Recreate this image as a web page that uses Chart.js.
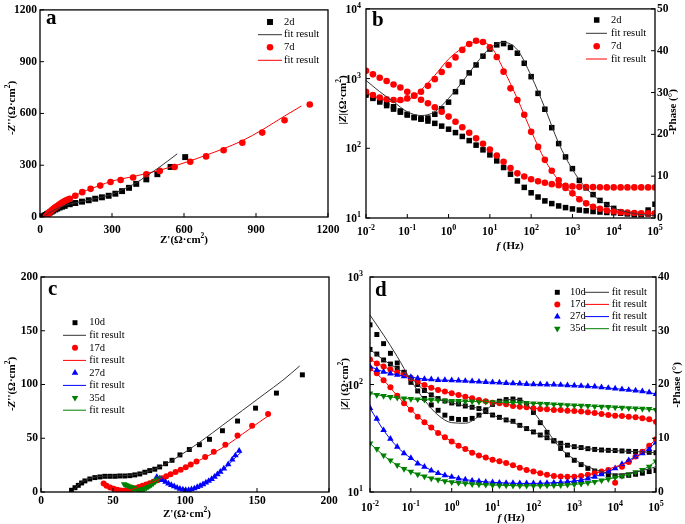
<!DOCTYPE html>
<html>
<head>
<meta charset="utf-8">
<script src="https://cdn.jsdelivr.net/npm/chart.js@4.4.1/dist/chart.umd.min.js"></script>
<style>
html,body{margin:0;padding:0;background:#ffffff;}
#wrap{position:relative;width:685px;height:524px;overflow:hidden;background:#fff;}
#wrap canvas{position:absolute;left:0;top:0;}
</style>
</head>
<body>
<div id="wrap">
<canvas id="pa" width="685" height="524"></canvas>
<canvas id="pb" width="685" height="524"></canvas>
<canvas id="pc" width="685" height="524"></canvas>
<canvas id="pd" width="685" height="524"></canvas>
</div>
<script>
// ---------------- DATA ----------------
// Panel a : Nyquist, 2d and 7d  [Z', -Z'']
const a2d = [[12,0.5],[15,4],[19,8],[24,12],[29,16],[35,21],[41,26],[48,31],[55,37],[64,43.6],[72,49],[82,55],[92,60],[103,64.5],[124,74],[147,81],[175,89],[203,97],[230,106],[258,114],[286,123],[314,135],[342,150],[371,169],[401,192],[443,218],[489,248],[544,290],[605,347]];
const a2dFit = [[15,0],[30,18],[47,31],[64,44],[82,56],[103,66],[124,75],[147,82],[175,90],[203,97],[230,106],[258,115],[286,126],[314,140],[342,157],[371,176],[401,198],[443,237],[489,280],[530,322],[572,366]];
const a7d = [[24,0.5],[26,4],[29,10],[33,16],[36,21],[40,27],[45,33],[50,40],[55,46],[61,53],[66,58],[72,64],[79,71],[86,77.6],[94,85],[102.8,93],[113,99],[124,106],[147,123],[176,144],[211,163],[251,182],[294,203],[336,214],[388,229],[443,248],[499,267],[561,290],[626,320],[692,351],[765,387],[843,430],[926,489],[1019,561],[1124,652]];
const a7dFit = [[24,0],[40,27],[60,52],[86,78],[124,107],[176,144],[211,163],[251,184],[294,205],[336,220],[388,234],[443,252],[499,271],[561,296],[626,325],[692,358],[765,396],[843,442],[926,505],[1019,585],[1089,643]];
const aTicks = [0,300,600,900,1200];

// Bode frequencies (Hz)
const FREQ = [0.01,0.0147,0.0215,0.0316,0.0464,0.0681,0.1,0.147,0.215,0.316,0.464,0.681,1,1.47,2.15,3.16,4.64,6.81,10,14.7,21.5,31.6,46.4,68.1,100,147,215,316,464,681,1000,1470,2150,3160,4640,6810,10000,14700,21500,31600,46400,68100,100000];
const FREQ_FIT = [0.01,0.0215,0.0464,0.1,0.215,0.464,1,2.15,4.64,10,21.5,46.4,100,215,464,1000,2150,4640,10000,21500,46400,100000];
const FREQ_DECADES = [0.01,0.1,1,10,100,1000,10000,100000];

// Panel b : |Z| and -phase, 2d and 7d
const bZ2d = [580,520,462,410,365,330,300,278,262,246,228,208,188,168,148,129,111,95,80.5,66,53,42.5,34,27.5,23,20,17.6,16.1,14.9,14.1,13.5,13.0,12.7,12.4,12.2,12.0,11.9,11.7,11.6,11.5,11.4,11.4,11.5];
const bP2d = [29.9,29.0,28.2,27.4,26.6,25.6,24.8,24.0,23.7,23.9,24.8,26.1,27.7,30.2,32.5,34.7,36.6,38.7,40.4,41.4,41.7,40.8,39.4,37.0,33.8,29.8,26.0,21.6,17.8,14.6,11.8,9.0,7.2,5.6,4.2,3.2,2.3,1.5,1.0,0.8,0.8,1.9,3.3];
const bZ7d = [1294,1150,1030,925,822,745,646,567,498,442,388,335,285,240,200,167,139,116,96,79,64,52,43.7,39.3,36,33.7,32,30.6,29.6,29,28.4,28,27.8,27.7,27.6,27.5,27.5,27.5,27.5,27.5,27.5,27.5,27.5];
const bP7d = [30.2,29.4,28.8,28.4,28.2,28.2,28.6,29.3,30.2,31.6,33.2,34.9,36.6,38.4,40.2,41.6,42.4,42.1,40.8,38.5,35.0,31.0,28.2,24.7,20.6,17.0,13.9,11.3,9.0,7.2,5.9,4.5,3.5,2.7,2.2,1.8,1.55,1.4,1.3,1.2,1.15,1.1,1.1];
const bFitP2d = [32.9,30.2,27.8,25.4,24.5,25.4,28.6,32.5,36.9,40.6,42.0,40.2,34.0,26.3,17.9,11.6,7.1,4.2,2.4,1.4,0.8,0.6];
const bFitP7d = [30.0,28.6,27.8,28.2,30.6,34.1,38.0,40.6,42.1,41.2,35.5,28.5,20.8,13.9,9.0,5.9,3.6,2.3,1.6,1.3,1.1,1.1];
const bZDecades = [10,100,1000,10000];
const bPhaseTicks = [0,10,20,30,40,50];

// Panel c : Nyquist, 10d 17d 27d 35d
const c10d = [[21.2,1.6],[23.6,4.0],[25.9,6.2],[28.2,8.4],[30.5,10.3],[33.9,12.1],[37.4,13.4],[40.9,14.0],[44.3,14.6],[47.8,14.6],[51.3,14.6],[54.7,14.9],[58.2,14.9],[61.7,15.2],[65.1,15.9],[68.6,16.8],[72.1,18.4],[75.5,19.9],[79.0,21.2],[82.4,23.3],[86.5,26.3],[91,29.5],[96.5,34.5],[103,39.5],[110,44],[117,49],[126,57],[136.5,66],[149,78],[163.5,92],[181.5,109]];
const c10dFit = [[22,0],[24,4],[27,8],[31,11],[36,13.5],[42,14.6],[50,15],[58,15.3],[66,16.3],[74,19],[82,23],[90,28.5],[100,37],[112,48],[126,62],[140,76],[155,91],[168,104],[179.7,117.3]];
const c17d = [[43.5,7.8],[45.5,5.8],[48,4.2],[50.5,3],[53,2],[55.5,1.4],[58,1.2],[60.5,1.5],[63,2.4],[65.5,3.5],[68,4.6],[70.5,5.8],[73,7],[75.5,8.2],[78,9.5],[81,11],[84,12.8],[87,14.6],[90,16.4],[93.5,18.6],[97,20.8],[100.5,23],[104,25.5],[108,28.3],[114,32.5],[120,37.5],[128,44],[136.5,52.5],[146.6,61.6],[157.7,72.5]];
const c17dFit = [[44,8],[50,3.2],[56,1.2],[62,2],[70,5.5],[80,10.5],[90,16.5],[100,23],[110,29.5],[120,36.5],[130,44.5],[140,54],[150,63.5],[158,71]];
const c27d = [[80.4,14],[82.5,12.5],[84.5,11],[86.5,9.4],[88.5,7.9],[90.5,6.5],[92.5,5.2],[94.5,4],[96.5,3],[98.5,2.2],[100.5,1.7],[102.5,1.8],[104.5,2.4],[106.5,3.3],[108.5,4.5],[110.5,5.8],[112.5,7.2],[114.5,8.7],[116.5,10.3],[118.5,12.1],[120.5,14.2],[122.5,16.4],[124.5,18.8],[127,21.8],[130,25.8],[132.8,30.2],[135,34],[137.6,38.3]];
const c27dFit = [[80,14.5],[85,10.5],[90,6.3],[95,3],[100,1.6],[105,2.5],[110,5.5],[115,9.2],[120,13.8],[125,19],[130,25],[135,32],[139,37]];
const c35d = [[57.7,7.2],[58.8,6.6],[60,6],[61.2,5.3],[62.4,4.7],[63.6,4.1],[64.8,3.5],[66,3],[67.2,2.6],[68.4,2.3],[69.6,2.2],[70.8,2.6],[72,3.2],[73.2,4],[74.4,4.9],[75.6,5.9],[76.8,7],[78,8.2],[79.2,9.6],[80.4,11],[81.5,12.8]];
const c35dFit = [[57.7,7.4],[61,5.4],[64,3.9],[67,2.7],[69.6,2.2],[72,3.1],[75,5.3],[78,8.1],[81.5,12.6]];
const cTicks = [0,50,100,150,200];

// Panel d : |Z| and -phase, 10d 17d 27d 35d
const dZ10 = [212,192,169,155,141,130,115,100,88,80,74,70.3,67.3,65.9,63.1,61.4,59.7,56,52,49.5,46.8,45.5,41.7,38.9,36.2,33.9,32,30,28.4,27.2,26.4,25.9,25.3,24.9,24.6,24.4,24.3,24.1,23.9,23.8,23.6,23.4,23.2];
const dP10 = [31.1,29.3,27.6,25.8,24.0,22.2,20.4,18.8,17.4,16.2,15.2,14.3,13.7,13.5,13.5,13.7,14.3,15.3,16.3,16.9,17.2,17.3,17.1,16.2,14.8,12.9,11.1,9.5,8.1,6.9,5.9,5.1,4.4,3.9,3.5,3.2,3.0,3.0,3.1,3.3,3.5,3.8,4.0];
const dZ17 = [171,157,147,138,129,123,114,106,99,93.5,89,86,82.8,80,77.1,74.5,71.8,69.8,67.8,66.8,65.5,63.1,62.2,61.4,60.1,59.2,58.8,57.9,57.9,57.1,56.7,56,55.1,54.3,53.2,52,51.3,50.9,50.2,49.5,48.5,47.4,45.1];
const dP17 = [23.0,22.1,20.8,19.5,17.9,16.5,15.3,14.0,13.0,12.0,11.0,10.2,9.4,8.6,8.0,7.3,6.8,6.4,6.0,5.7,5.4,5.0,4.5,4.1,3.8,3.5,3.2,3.0,2.9,2.86,2.86,3.0,3.2,3.5,3.8,4.1,1.7,4.7,5.6,6.6,7.5,8.6,9.8];
const dZ27 = [147,136,131,126,123,119,117,114,112.5,111.7,110,110,109.3,108.6,107.9,107.2,106.2,105.5,104.8,104,103.3,102.6,101.8,101.1,100.4,100.4,99.7,99.7,99,98.3,97.6,96.9,96.2,95.5,94.2,92.9,91.5,90.2,89,87.7,86.5,84.6,81.6];
const dP27 = [15.6,13.6,11.5,9.9,8.4,7.2,6.3,5.3,4.7,4.0,3.5,3.1,2.8,2.5,2.3,2.1,2.0,1.85,1.8,1.73,1.67,1.67,1.6,1.6,1.6,1.6,1.67,1.73,1.8,1.92,2.05,2.2,2.5,2.8,3.3,3.8,4.4,5.2,5.9,6.6,7.2,8.0,9.2];
const dZ35 = [82.8,80,78.2,76.5,75.4,74.3,73.3,72.8,72.3,71.8,71.3,70.8,70.3,70.3,69.7,69.7,69.2,69.2,68.7,68.7,68.2,68.2,67.7,67.3,66.8,66.3,65.9,65.4,64.9,64.4,64,63.5,63.1,62.6,62.2,61.8,61.3,60.8,60.4,60,59.6,59.2,57.9];
const dP35 = [9.05,8.0,6.8,5.9,5.0,4.3,3.78,3.28,2.9,2.53,2.28,2.03,1.84,1.71,1.59,1.47,1.4,1.34,1.28,1.22,1.22,1.16,1.16,1.16,1.16,1.16,1.22,1.22,1.28,1.34,1.4,1.53,1.71,1.9,2.15,2.4,2.7,3.0,3.3,3.7,4.1,4.7,5.7];
const dFitZ10 = [212,169,141,115,88,74,67.3,63.1,59.7,52,46.8,41.7,36.2,32,28.4,26.4,25.3,24.6,24.3,23.9,23.6,23.2];
const dFitP10 = [32.9,29.2,25.2,20.8,17.1,14.3,12.9,12.8,14.1,16.2,17.2,17.2,14.9,11.4,8.1,6.1,4.7,3.8,3.3,3.5,4.0,4.7];
const dFitZ17 = [171,147,129,114,99,89,82.8,77.1,71.8,67.8,65.5,62.2,60.1,58.8,57.9,56.7,55.1,53.2,51.3,50.2,48.5,45.1];
const dFitP17 = [23.0,20.8,17.9,15.3,13.0,11.0,9.4,8.0,6.8,6.0,5.4,4.5,3.8,3.2,2.9,2.86,3.2,3.8,4.7,5.6,7.5,9.8];
const dFitZ27 = [147,131,123,117,112.5,110,109.3,107.9,106.2,104.8,103.3,101.8,100.4,99.7,99,97.6,96.2,94.2,91.5,89,86.5,81.6];
const dFitP27 = [15.6,11.5,8.4,6.3,4.7,3.5,2.8,2.3,2.0,1.8,1.67,1.6,1.6,1.67,1.8,2.05,2.5,3.3,4.4,5.9,7.2,9.2];
const dFitZ35 = [82.8,78.2,75.4,73.3,72.3,71.3,70.3,69.7,69.2,68.7,68.2,67.7,66.8,65.9,64.9,64,63.1,62.2,61.3,60.4,59.6,57.9];
const dFitP35 = [9.05,6.8,5.0,3.78,2.9,2.28,1.84,1.59,1.4,1.28,1.22,1.16,1.16,1.16,1.22,1.4,1.71,2.15,2.7,3.3,4.1,5.7];
const dZDecades = [10,100,1000];
const dPhaseTicks = [0,10,20,30,40];

// ---------------- STYLE / HELPERS ----------------
const SERIF = '"Liberation Serif","Times New Roman",serif';
const TICKF = {family: SERIF, size: 11.5, weight: 'bold'};
Chart.defaults.font.family = SERIF;
Chart.defaults.color = '#000';
const BLK = '#000000', RED = '#ff0000', BLU = '#0000ff', GRN = '#008000', BLKL = '#333333';

const pairs = arr => arr.map(p => ({x: p[0], y: p[1]}));
const spec = (f, v) => f.map((x, i) => ({x: x, y: v[i]}));

function pts(label, data, color, style, r, yID, rot, order) {
  return {label, data, showLine: false, pointStyle: style, pointRadius: r, pointHoverRadius: r,
    pointRotation: rot || 0, backgroundColor: color, borderColor: color, pointBorderWidth: 0,
    yAxisID: yID, order: order};
}
function line(label, data, color, yID, order) {
  return {label, data, showLine: true, pointRadius: 0, pointHoverRadius: 0, borderColor: color,
    backgroundColor: color, borderWidth: 1, cubicInterpolationMode: 'monotone', fill: false,
    yAxisID: yID, order: order};
}
const fixW = w => s => { s.width = w; };
const fixH = h => s => { s.height = h; };
function linAxis(pos, vals, pad, size) {
  const horiz = pos === 'bottom';
  return {type: 'linear', position: pos, min: vals[0], max: vals[vals.length - 1],
    afterBuildTicks: s => { s.ticks = vals.map(v => ({value: v})); },
    ticks: {font: TICKF, color: '#000', padding: pad, maxRotation: 0, minRotation: 0, autoSkip: false,
      callback: v => String(v)},
    grid: {display: false, drawTicks: false}, border: {display: false},
    afterFit: horiz ? fixH(size) : fixW(size)};
}
function logAxis(pos, vals, size) {
  const horiz = pos === 'bottom';
  return {type: 'logarithmic', position: pos, min: vals[0], max: vals[vals.length - 1],
    afterBuildTicks: s => { s.ticks = vals.map(v => ({value: v})); },
    ticks: {display: false}, grid: {display: false, drawTicks: false}, border: {display: false},
    afterFit: horiz ? fixH(size) : fixW(size)};
}

const F_B = 'bold 11px ' + SERIF, F_BI = 'italic bold 11px ' + SERIF, F_SUP = 'bold 7.5px ' + SERIF;
const unitSegs = [{t: '(\u03A9\u00B7cm', f: F_B}, {t: '2', f: F_SUP, dy: -4}, {t: ')', f: F_B}];

function drawRich(ctx, segs, x, y, rot) {
  ctx.save(); ctx.translate(x, y); ctx.rotate(rot || 0);
  ctx.fillStyle = '#000'; ctx.textBaseline = 'middle'; ctx.textAlign = 'left';
  let total = 0;
  const ws = segs.map(s => { ctx.font = s.f; const w = ctx.measureText(s.t).width; total += w; return w; });
  let cx = -total / 2;
  segs.forEach((s, i) => { ctx.font = s.f; ctx.fillText(s.t, cx, s.dy || 0); cx += ws[i]; });
  ctx.restore();
}
function drawPow(ctx, v, x, y, align) {
  const e = String(Math.round(Math.log10(v)));
  const big = 'bold 11.5px ' + SERIF, small = 'bold 8px ' + SERIF;
  ctx.font = big; const w1 = ctx.measureText('10').width;
  ctx.font = small; const w2 = ctx.measureText(e).width;
  const w = w1 + w2;
  const x0 = align === 'center' ? x - w / 2 : (align === 'right' ? x - w : x);
  ctx.fillStyle = '#000'; ctx.textAlign = 'left'; ctx.textBaseline = 'alphabetic';
  ctx.font = big; ctx.fillText('10', x0, y);
  ctx.font = small; ctx.fillText(e, x0 + w1, y - 5);
}

const deco = {
  id: 'deco',
  afterDraw(chart, args, o) {
    const ctx = chart.ctx, ca = chart.chartArea;
    ctx.save();
    ctx.strokeStyle = '#000'; ctx.lineWidth = 1.3;
    ctx.strokeRect(ca.left, ca.top, ca.right - ca.left, ca.bottom - ca.top);
    ctx.lineWidth = 1;
    (o.ticks || []).forEach(t => {
      const s = chart.scales[t.id];
      s.ticks.forEach(tk => {
        const p = s.getPixelForValue(tk.value);
        ctx.beginPath();
        if (t.side === 'bottom') { ctx.moveTo(p, ca.bottom); ctx.lineTo(p, ca.bottom - 4); }
        else if (t.side === 'left') { ctx.moveTo(ca.left, p); ctx.lineTo(ca.left + 4, p); }
        else { ctx.moveTo(ca.right, p); ctx.lineTo(ca.right - 4, p); }
        ctx.stroke();
      });
    });
    (o.pow || []).forEach(t => {
      const s = chart.scales[t.id];
      s.ticks.forEach(tk => {
        const p = s.getPixelForValue(tk.value);
        if (t.side === 'bottom') drawPow(ctx, tk.value, p, ca.bottom + t.off, 'center');
        else drawPow(ctx, tk.value, ca.left - t.off, p + 4, 'right');
      });
    });
    (o.titles || []).forEach(t => drawRich(ctx, t.segs, t.x, t.y, t.rot));
    if (o.letter) {
      ctx.fillStyle = '#000'; ctx.font = 'bold 21px ' + SERIF; ctx.textAlign = 'left'; ctx.textBaseline = 'alphabetic';
      ctx.fillText(o.letter.t, o.letter.x, o.letter.y);
    }
    (o.legend || []).forEach(it => {
      if (it.pt) {
        ctx.fillStyle = it.color; ctx.strokeStyle = it.color;
        Chart.helpers.drawPoint(ctx, {pointStyle: it.pt, radius: it.r, rotation: it.rot || 0, borderWidth: 0}, it.x, it.y);
      }
      if (it.line) {
        ctx.strokeStyle = it.lc; ctx.lineWidth = 1;
        ctx.beginPath(); ctx.moveTo(it.line[0], it.y); ctx.lineTo(it.line[1], it.y); ctx.stroke();
      }
      ctx.fillStyle = '#000'; ctx.font = '10.5px ' + SERIF; ctx.textAlign = 'left'; ctx.textBaseline = 'middle';
      (it.texts || []).forEach(tx => ctx.fillText(tx[0], tx[1], it.y));
    });
    ctx.restore();
  }
};

function baseOpts(padding, scales, decoOpts) {
  return {responsive: false, animation: false, devicePixelRatio: 1, events: [],
    layout: {padding: padding, autoPadding: false}, scales: scales,
    plugins: {legend: {display: false}, tooltip: {enabled: false}, deco: decoOpts}};
}

// ---------------- PANEL A ----------------
new Chart(document.getElementById('pa'), {
  type: 'scatter',
  plugins: [deco],
  data: {datasets: [
    line('2d fit', pairs(a2dFit), BLKL, 'y', 0),
    line('7d fit', pairs(a7dFit), RED, 'y', 0),
    pts('7d', pairs(a7d), RED, 'circle', 3.3, 'y', 0, 1),
    pts('2d', pairs(a2d), BLK, 'rect', 4.2, 'y', 0, 2)
  ]},
  options: baseOpts({left: 0, top: 6, right: 357, bottom: 287},
    {x: linAxis('bottom', aTicks, 6, 20), y: linAxis('left', aTicks, 3, 40)},
    {ticks: [{id: 'x', side: 'bottom'}, {id: 'y', side: 'left'}],
     titles: [
       {segs: [{t: '-', f: F_B}, {t: 'Z', f: F_BI}, {t: "''", f: F_B}].concat(unitSegs), x: 12, y: 108, rot: -Math.PI / 2},
       {segs: [{t: "Z'", f: F_B}].concat(unitSegs), x: 184, y: 240}],
     letter: {t: 'a', x: 46, y: 24},
     legend: [
       {pt: 'rect', r: 4.2, color: BLK, x: 270, y: 22, texts: [['2d', 284]]},
       {line: [258, 282], lc: BLKL, y: 34.7, texts: [['fit result', 284]]},
       {pt: 'circle', r: 3.3, color: RED, x: 270, y: 47.3, texts: [['7d', 284]]},
       {line: [258, 282], lc: RED, y: 60.3, texts: [['fit result', 284]]}]})
});

// ---------------- PANEL B ----------------
new Chart(document.getElementById('pb'), {
  type: 'scatter',
  plugins: [deco],
  data: {datasets: [
    line('2d phase fit', spec(FREQ_FIT, bFitP2d), BLKL, 'yP', 0),
    line('7d phase fit', spec(FREQ_FIT, bFitP7d), RED, 'yP', 0),
    pts('7d |Z|', spec(FREQ, bZ7d), RED, 'circle', 3.3, 'yZ', 0, 1),
    pts('7d phase', spec(FREQ, bP7d), RED, 'circle', 3.3, 'yP', 0, 1),
    pts('2d |Z|', spec(FREQ, bZ2d), BLK, 'rect', 3.9, 'yZ', 0, 2),
    pts('2d phase', spec(FREQ, bP2d), BLK, 'rect', 3.9, 'yP', 0, 2)
  ]},
  options: baseOpts({left: 340, top: 6, right: 10, bottom: 286},
    {x: logAxis('bottom', FREQ_DECADES, 20), yZ: logAxis('left', bZDecades, 26), yP: linAxis('right', bPhaseTicks, 2, 20)},
    {ticks: [{id: 'x', side: 'bottom'}, {id: 'yZ', side: 'left'}, {id: 'yP', side: 'right'}],
     pow: [{id: 'x', side: 'bottom', off: 17}, {id: 'yZ', side: 'left', off: 5}],
     titles: [
       {segs: [{t: '|', f: F_B}, {t: 'Z', f: F_BI}, {t: '|', f: F_B}].concat(unitSegs), x: 343, y: 100, rot: -Math.PI / 2},
       {segs: [{t: '-Phase (\u00B0)', f: F_B}], x: 673, y: 112, rot: -Math.PI / 2},
       {segs: [{t: 'f', f: F_BI}, {t: ' (Hz)', f: F_B}], x: 510, y: 246}],
     letter: {t: 'b', x: 372, y: 26},
     legend: [
       {pt: 'rect', r: 3.9, color: BLK, x: 596.7, y: 20, texts: [['2d', 611]]},
       {line: [586, 607], lc: BLKL, y: 33.3, texts: [['fit result', 611]]},
       {pt: 'circle', r: 3.3, color: RED, x: 596.7, y: 46.3, texts: [['7d', 611]]},
       {line: [586, 607], lc: RED, y: 59, texts: [['fit result', 611]]}]})
});

// ---------------- PANEL C ----------------
new Chart(document.getElementById('pc'), {
  type: 'scatter',
  plugins: [deco],
  data: {datasets: [
    line('10d fit', pairs(c10dFit), BLKL, 'y', 0),
    line('17d fit', pairs(c17dFit), RED, 'y', 0),
    line('27d fit', pairs(c27dFit), BLU, 'y', 0),
    line('35d fit', pairs(c35dFit), GRN, 'y', 0),
    pts('35d', pairs(c35d), GRN, 'triangle', 3.8, 'y', 180, 1),
    pts('27d', pairs(c27d), BLU, 'triangle', 3.8, 'y', 0, 2),
    pts('17d', pairs(c17d), RED, 'circle', 3, 'y', 0, 3),
    pts('10d', pairs(c10d), BLK, 'rect', 3.5, 'y', 0, 4)
  ]},
  options: baseOpts({left: 0, top: 277, right: 356, bottom: 12},
    {x: linAxis('bottom', cTicks, 2, 20), y: linAxis('left', cTicks, 3, 41)},
    {ticks: [{id: 'x', side: 'bottom'}, {id: 'y', side: 'left'}],
     titles: [
       {segs: [{t: '-', f: F_B}, {t: 'Z', f: F_BI}, {t: "''", f: F_B}].concat(unitSegs), x: 12, y: 384, rot: -Math.PI / 2},
       {segs: [{t: "Z'", f: F_B}].concat(unitSegs), x: 187, y: 514}],
     letter: {t: 'c', x: 48, y: 295},
     legend: [
       {pt: 'rect', r: 3.5, color: BLK, x: 75, y: 322.7, texts: [['10d', 89.3]]},
       {line: [63, 86], lc: BLKL, y: 335.3, texts: [['fit result', 89.3]]},
       {pt: 'circle', r: 3, color: RED, x: 75, y: 347.8, texts: [['17d', 89.3]]},
       {line: [63, 86], lc: RED, y: 360.4, texts: [['fit result', 89.3]]},
       {pt: 'triangle', r: 3.8, color: BLU, x: 75, y: 372.9, texts: [['27d', 89.3]]},
       {line: [63, 86], lc: BLU, y: 385.4, texts: [['fit result', 89.3]]},
       {pt: 'triangle', r: 3.8, rot: 180, color: GRN, x: 75, y: 397.8, texts: [['35d', 89.3]]},
       {line: [63, 86], lc: GRN, y: 410.2, texts: [['fit result', 89.3]]}]})
});

// ---------------- PANEL D ----------------
new Chart(document.getElementById('pd'), {
  type: 'scatter',
  plugins: [deco],
  data: {datasets: [
    line('10d phase fit', spec(FREQ_FIT, dFitP10), BLKL, 'yP', 0),
    line('10d |Z| fit', spec(FREQ_FIT, dFitZ10), BLKL, 'yZ', 0),
    line('17d phase fit', spec(FREQ_FIT, dFitP17), RED, 'yP', 0),
    line('17d |Z| fit', spec(FREQ_FIT, dFitZ17), RED, 'yZ', 0),
    line('27d phase fit', spec(FREQ_FIT, dFitP27), BLU, 'yP', 0),
    line('27d |Z| fit', spec(FREQ_FIT, dFitZ27), BLU, 'yZ', 0),
    line('35d phase fit', spec(FREQ_FIT, dFitP35), GRN, 'yP', 0),
    line('35d |Z| fit', spec(FREQ_FIT, dFitZ35), GRN, 'yZ', 0),
    pts('35d |Z|', spec(FREQ, dZ35), GRN, 'triangle', 3.8, 'yZ', 180, 1),
    pts('35d phase', spec(FREQ, dP35), GRN, 'triangle', 3.8, 'yP', 180, 1),
    pts('27d |Z|', spec(FREQ, dZ27), BLU, 'triangle', 3.8, 'yZ', 0, 2),
    pts('27d phase', spec(FREQ, dP27), BLU, 'triangle', 3.8, 'yP', 0, 2),
    pts('17d |Z|', spec(FREQ, dZ17), RED, 'circle', 3, 'yZ', 0, 3),
    pts('17d phase', spec(FREQ, dP17), RED, 'circle', 3, 'yP', 0, 3),
    pts('10d |Z|', spec(FREQ, dZ10), BLK, 'rect', 3.5, 'yZ', 0, 4),
    pts('10d phase', spec(FREQ, dP10), BLK, 'rect', 3.5, 'yP', 0, 4)
  ]},
  options: baseOpts({left: 344, top: 277, right: 9, bottom: 12},
    {x: logAxis('bottom', FREQ_DECADES, 20), yZ: logAxis('left', dZDecades, 26), yP: linAxis('right', dPhaseTicks, 2, 20)},
    {ticks: [{id: 'x', side: 'bottom'}, {id: 'yZ', side: 'left'}, {id: 'yP', side: 'right'}],
     pow: [{id: 'x', side: 'bottom', off: 18.5}, {id: 'yZ', side: 'left', off: 7}],
     titles: [
       {segs: [{t: '|', f: F_B}, {t: 'Z', f: F_BI}, {t: '| ', f: F_B}].concat(unitSegs), x: 345, y: 384, rot: -Math.PI / 2},
       {segs: [{t: '-Phase (\u00B0)', f: F_B}], x: 677, y: 385, rot: -Math.PI / 2},
       {segs: [{t: 'f', f: F_BI}, {t: ' (Hz)', f: F_B}], x: 511, y: 518}],
     letter: {t: 'd', x: 375, y: 296},
     legend: [
       {pt: 'rect', r: 3.5, color: BLK, x: 557.3, y: 292.3, line: [585, 609], lc: BLKL, texts: [['10d', 570], ['fit result', 611.7]]},
       {pt: 'circle', r: 3, color: RED, x: 557.3, y: 304.4, line: [585, 609], lc: RED, texts: [['17d', 570], ['fit result', 611.7]]},
       {pt: 'triangle', r: 3.8, color: BLU, x: 557.3, y: 316.6, line: [585, 609], lc: BLU, texts: [['27d', 570], ['fit result', 611.7]]},
       {pt: 'triangle', r: 3.8, rot: 180, color: GRN, x: 557.3, y: 328.7, line: [585, 609], lc: GRN, texts: [['35d', 570], ['fit result', 611.7]]}]})
});
</script>
</body>
</html>
